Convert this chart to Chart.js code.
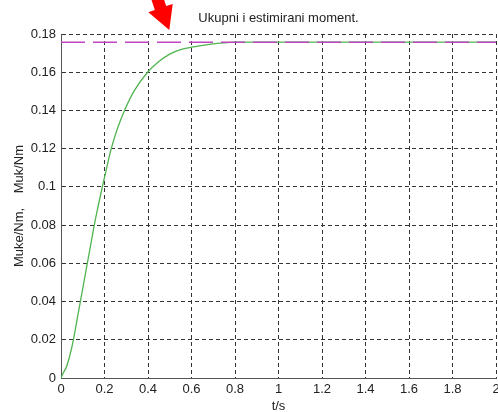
<!DOCTYPE html>
<html>
<head>
<meta charset="utf-8">
<title>Ukupni i estimirani moment</title>
<script src="https://cdn.jsdelivr.net/npm/chart.js@4"></script>
<style>
  body { margin: 0; background: #fff; }
  canvas { display: block; }
</style>
</head>
<body>
<canvas id="momentChart" width="498" height="412"></canvas>
<script>
// total torque response, t in s, torque in Nm
const timeS = [0, 0.01, 0.025, 0.04, 0.057, 0.073, 0.089, 0.105, 0.121, 0.137, 0.153, 0.171, 0.19, 0.21,
  0.231, 0.258, 0.292, 0.335, 0.398, 0.45, 0.5, 0.55, 0.6, 0.65, 0.7, 0.75, 0.8, 1.0, 1.2, 1.4, 1.6, 1.8, 2.0];
const totalTorque = [0, 0.0025, 0.0058, 0.0115, 0.02, 0.03, 0.04, 0.05, 0.06, 0.07, 0.08, 0.09, 0.10, 0.11,
  0.12, 0.13, 0.14, 0.15, 0.16, 0.1656, 0.1695, 0.1718, 0.1731, 0.1741, 0.1748, 0.1754, 0.1757, 0.1757,
  0.1757, 0.1757, 0.1757, 0.1757, 0.1757];

// estimated torque (constant)
const estimatedTime = [0, 2];
const estimatedTorque = [0.1757, 0.1757];

const xTickValues = [0, 0.2, 0.4, 0.6, 0.8, 1, 1.2, 1.4, 1.6, 1.8, 2];
const xTickLabels = ['0', '0.2', '0.4', '0.6', '0.8', '1', '1.2', '1.4', '1.6', '1.8', '2'];
const yTickValues = [0, 0.02, 0.04, 0.06, 0.08, 0.1, 0.12, 0.14, 0.16, 0.18];
const yTickLabels = ['0', '0.02', '0.04', '0.06', '0.08', '0.1', '0.12', '0.14', '0.16', '0.18'];

// red pointer above the plot, outline given in axis units (t, Nm)
const arrowT = [0.4097, 0.4621, 0.4837, 0.5136, 0.4979, 0.4014, 0.4313];
const arrowNm = [0.2000, 0.2020, 0.1946, 0.1957, 0.1821, 0.1914, 0.1926];

Chart.defaults.font.family = '"Liberation Sans", Arial, sans-serif';
Chart.defaults.font.size = 13;
Chart.defaults.color = '#222';

const arrowPlugin = {
  id: 'arrowMarker',
  afterDraw(chart) {
    const ctx = chart.ctx;
    const xs = chart.scales.x;
    const ys = chart.scales.y;
    ctx.save();
    ctx.fillStyle = '#ff0000';
    ctx.beginPath();
    arrowT.forEach((t, i) => {
      const px = xs.getPixelForValue(t);
      const py = ys.getPixelForValue(arrowNm[i]);
      if (i === 0) ctx.moveTo(px, py); else ctx.lineTo(px, py);
    });
    ctx.closePath();
    ctx.fill();
    ctx.restore();
  }
};

const gridStyle = { color: '#333', lineWidth: 1, drawTicks: false };
const borderStyle = { display: true, color: '#555', width: 1, dash: [4, 3] };

new Chart(document.getElementById('momentChart').getContext('2d'), {
  type: 'line',
  data: {
    datasets: [
      {
        label: 'Muke',
        data: estimatedTime.map((t, i) => ({ x: t, y: estimatedTorque[i] })),
        borderColor: 'rgb(190,70,190)',
        borderWidth: 1.5,
        borderDash: [24, 8],
        pointRadius: 0,
        order: 0
      },
      {
        label: 'Muk',
        data: timeS.map((t, i) => ({ x: t, y: totalTorque[i] })),
        borderColor: 'rgb(80,180,80)',
        borderWidth: 1.3,
        cubicInterpolationMode: 'monotone',
        pointRadius: 0,
        order: 1
      }
    ]
  },
  options: {
    responsive: false,
    animation: false,
    layout: { padding: { top: 0, right: 2, bottom: 0, left: 0 } },
    plugins: {
      legend: { display: false },
      tooltip: { enabled: false },
      title: { display: false }
    },
    scales: {
      // top axis only carries the plot title, centred over the axes box
      top: {
        type: 'linear',
        position: 'top',
        min: 0,
        max: 2,
        afterFit: s => { s.height = 34; s.paddingLeft = 0; s.paddingRight = 0; },
        ticks: { display: false },
        grid: { display: false, drawTicks: false },
        border: { display: false },
        title: {
          display: true,
          text: 'Ukupni i estimirani moment.',
          padding: { top: 11, bottom: 0 },
          font: { size: 13 }
        }
      },
      x: {
        type: 'linear',
        min: 0,
        max: 2,
        afterBuildTicks: s => { s.ticks = xTickValues.map(v => ({ value: v })); },
        afterFit: s => { s.height = 34; s.paddingLeft = 0; s.paddingRight = 0; },
        ticks: { callback: (v, i) => xTickLabels[i], padding: 4, maxRotation: 0, autoSkip: false },
        grid: gridStyle,
        border: borderStyle,
        title: { display: true, text: 't/s', padding: { top: 0, bottom: -1 }, font: { size: 13, lineHeight: 1 } }
      },
      y: {
        type: 'linear',
        min: 0,
        max: 0.18,
        afterBuildTicks: s => { s.ticks = yTickValues.map(v => ({ value: v })); },
        afterFit: s => { s.width = 61; s.paddingTop = 0; s.paddingBottom = 0; },
        ticks: { callback: (v, i) => yTickLabels[i], padding: 5, autoSkip: false },
        grid: gridStyle,
        border: borderStyle,
        title: { display: true, text: 'Muke/Nm,    Muk/Nm', padding: { top: 12, bottom: 0 }, font: { size: 13 } }
      }
    }
  },
  plugins: [arrowPlugin]
});
</script>
</body>
</html>
